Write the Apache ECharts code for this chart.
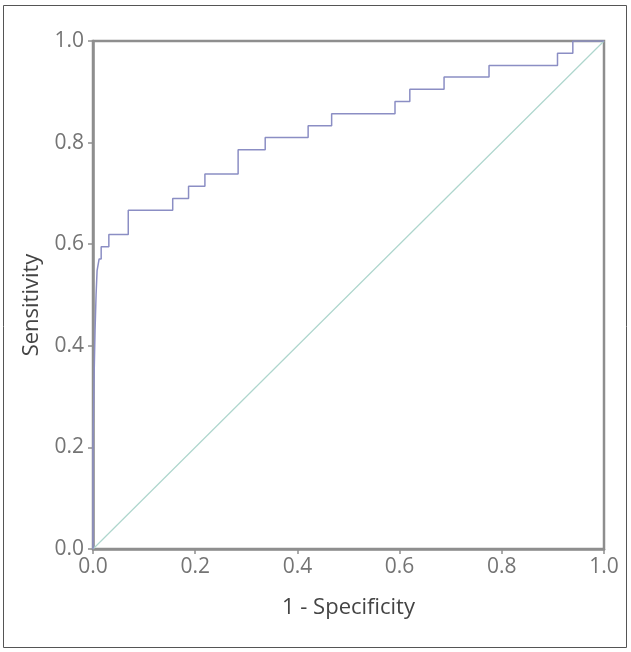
<!DOCTYPE html>
<html>
<head>
<meta charset="utf-8">
<script src="https://cdn.jsdelivr.net/npm/echarts@6/dist/echarts.min.js"></script>
<style>
html,body{margin:0;padding:0;background:#fff;}
#chart{width:631px;height:652px;}
</style>
</head>
<body>
<div id="chart"></div>
<script>
// ROC curve data (1 - Specificity, Sensitivity)
var fpr = [0, 0, 0.002, 0.004, 0.006, 0.008, 0.012, 0.016, 0.016, 0.031, 0.031, 0.069, 0.069, 0.156, 0.156, 0.187, 0.187, 0.219, 0.219, 0.284, 0.284, 0.337, 0.337, 0.421, 0.421, 0.467, 0.467, 0.591, 0.591, 0.620, 0.620, 0.687, 0.687, 0.775, 0.775, 0.909, 0.909, 0.939, 0.939, 1.0];
var tpr = [0, 0.214, 0.333, 0.429, 0.5, 0.548, 0.571, 0.571, 0.595, 0.595, 0.619, 0.619, 0.667, 0.667, 0.690, 0.690, 0.714, 0.714, 0.738, 0.738, 0.786, 0.786, 0.810, 0.810, 0.833, 0.833, 0.857, 0.857, 0.881, 0.881, 0.905, 0.905, 0.929, 0.929, 0.952, 0.952, 0.976, 0.976, 1.0, 1.0];
var refX = [0, 1];
var refY = [0, 1];
var xTitle = '1 - Specificity';
var yTitle = 'Sensitivity';

var rocData = fpr.map(function(v, i){ return [v, tpr[i]]; });
var refData = refX.map(function(v, i){ return [v, refY[i]]; });

var chart = echarts.init(document.getElementById('chart'), null, {renderer:'canvas'});
var axisCommon = {
  type: 'value', min: 0, max: 1, interval: 0.2,
  axisLine: {show: true, lineStyle: {color: '#8e8e8e', width: 2.5}},
  axisTick: {show: true, length: 5, lineStyle: {color: '#8e8e8e', width: 1.5}},
  splitLine: {show: false},
  axisLabel: {color: '#747474', fontSize: 21, fontFamily: 'Open Sans', formatter: function(v){ return v.toFixed(1); }},
  nameLocation: 'middle',
  nameTextStyle: {color: '#444', fontSize: 22, fontFamily: 'Open Sans'}
};
chart.setOption({
  animation: false,
  backgroundColor: '#fff',
  graphic: [{
    type: 'rect', shape: {x: 3.5, y: 5.5, width: 623, height: 642},
    style: {fill: 'none', stroke: '#555', lineWidth: 1}, z: -1
  }],
  grid: {left: 93, right: 27, top: 41, bottom: 103, show: true, borderColor: '#8e8e8e', borderWidth: 2.5, backgroundColor: 'transparent'},
  xAxis: Object.assign({}, axisCommon, {name: xTitle, nameGap: 48, axisLabel: Object.assign({}, axisCommon.axisLabel, {margin: 8})}),
  yAxis: Object.assign({}, axisCommon, {name: yTitle, nameGap: 50,
    nameTextStyle: Object.assign({}, axisCommon.nameTextStyle, {padding: [0, 20, 0, 0]}),
    axisLabel: Object.assign({}, axisCommon.axisLabel, {margin: 9})}),
  series: [
    {type: 'line', data: refData, showSymbol: false, lineStyle: {color: '#aed6cd', width: 1.2}, z: 2},
    {type: 'line', data: rocData, showSymbol: false, lineStyle: {color: '#8b8ec4', width: 1.5}, z: 3}
  ]
});
</script>
</body>
</html>
